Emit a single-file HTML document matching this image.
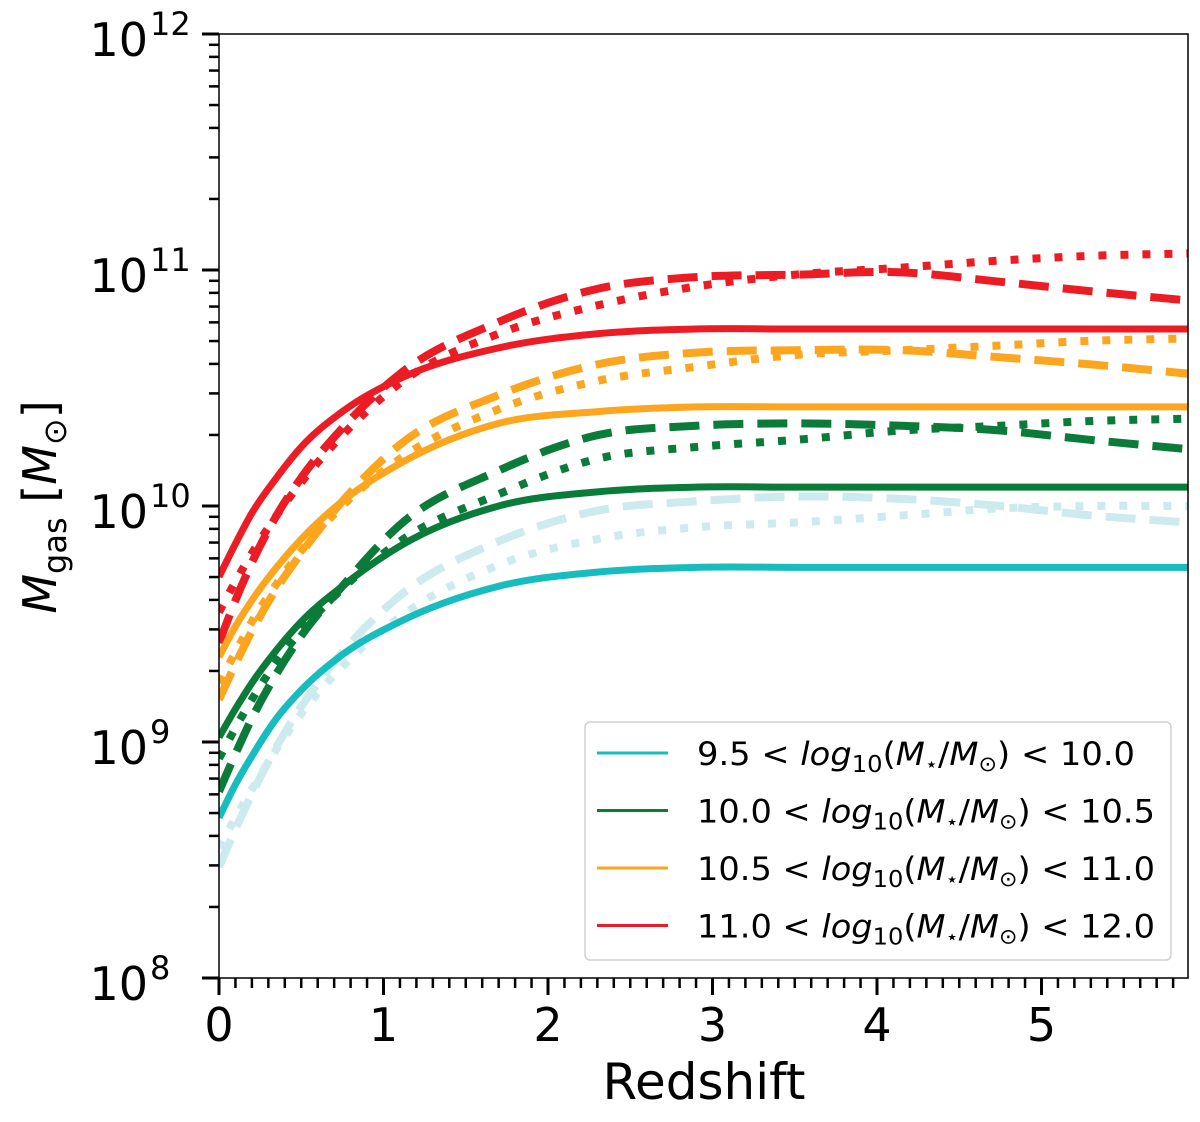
<!DOCTYPE html>
<html><head><meta charset="utf-8"><style>
html,body{margin:0;padding:0;background:#fff;}
svg{display:block;font-family:"DejaVu Sans","Liberation Sans",sans-serif;}
</style></head><body>
<svg id="chart" width="1200" height="1122" viewBox="0 0 1200 1122" xmlns="http://www.w3.org/2000/svg">
<defs><clipPath id="plotclip"><rect x="219" y="34" width="969" height="944"/></clipPath></defs>
<g id="plot" clip-path="url(#plotclip)"></g>
<g id="axes"></g>
<g id="legend"></g>
</svg>
<script>
const redshifts = [0,0.1,0.2,0.35,0.5,0.75,1.1,1.7,2.3,2.9,3.5,4.15,4.75,5.3,5.9];
const xTicks = [0,1,2,3,4,5];
const yTickExps = [8,9,10,11,12];
const binNames = ['9.5 < ','10.0 < ','10.5 < ','11.0 < '];
const binUppers = [' < 10.0',' < 10.5',' < 11.0',' < 12.0'];
// log10 gas mass values
const cyanSolid   = [8.68,8.82,8.94,9.10,9.22,9.37,9.51,9.66,9.72,9.74,9.74,9.74,9.74,9.74,9.74];
const cyanDashed  = [8.47,8.63,8.78,8.98,9.15,9.38,9.62,9.85,9.98,10.02,10.04,10.03,10.00,9.96,9.93];
const cyanDotted  = [8.55,8.68,8.80,8.97,9.12,9.32,9.53,9.75,9.86,9.91,9.93,9.96,9.99,10.0,10.0];
const greenSolid  = [9.02,9.14,9.25,9.39,9.51,9.66,9.83,10.00,10.06,10.08,10.08,10.08,10.08,10.08,10.08];
const greenDashed = [8.79,8.95,9.10,9.29,9.45,9.66,9.92,10.15,10.30,10.34,10.35,10.34,10.32,10.28,10.24];
const greenDotted = [8.93,9.06,9.18,9.34,9.47,9.65,9.85,10.05,10.20,10.25,10.28,10.32,10.34,10.36,10.37];
const orangeSolid = [9.36,9.49,9.60,9.74,9.86,10.02,10.18,10.35,10.40,10.42,10.42,10.42,10.42,10.42,10.42];
const orangeDashed= [9.18,9.33,9.47,9.65,9.80,10.02,10.26,10.47,10.60,10.65,10.66,10.66,10.63,10.60,10.56];
const orangeDotted= [9.25,9.38,9.51,9.67,9.81,10.00,10.20,10.41,10.53,10.59,10.64,10.66,10.68,10.70,10.71];
const redSolid    = [9.70,9.84,9.97,10.12,10.25,10.40,10.54,10.67,10.73,10.75,10.75,10.75,10.75,10.75,10.75];
const redDashed   = [9.42,9.60,9.76,9.96,10.12,10.33,10.56,10.78,10.92,10.97,10.98,10.99,10.95,10.91,10.87];
const redDotted   = [9.55,9.68,9.80,9.96,10.10,10.30,10.52,10.73,10.85,10.93,10.98,11.01,11.04,11.06,11.07];

const NS='http://www.w3.org/2000/svg';
const X0=219,X1=1188,Y0=978,Y1=34, PXU=164.5;
const xs=z=>X0+z*PXU;
const ys=l=>Y0-(l-8)*(Y0-Y1)/4;
function mk(tag,attrs,parent){const e=document.createElementNS(NS,tag);for(const k in attrs)e.setAttribute(k,attrs[k]);parent.appendChild(e);return e;}
const plot=document.getElementById('plot'),axes=document.getElementById('axes'),leg=document.getElementById('legend');

function smoothPath(vals){
  const p=redshifts.map((z,i)=>[xs(z),ys(vals[i])]);
  const n=p.length,m=[];
  for(let i=0;i<n;i++){
    if(i===0){m.push((p[1][1]-p[0][1])/(p[1][0]-p[0][0]));continue;}
    if(i===n-1){m.push((p[n-1][1]-p[n-2][1])/(p[n-1][0]-p[n-2][0]));continue;}
    const h0=p[i][0]-p[i-1][0],h1=p[i+1][0]-p[i][0];
    const d0=(p[i][1]-p[i-1][1])/h0,d1=(p[i+1][1]-p[i][1])/h1;
    m.push((d0*h1+d1*h0)/(h0+h1));
  }
  let d='M'+p[0][0]+','+p[0][1];
  for(let i=0;i<n-1;i++){
    const h=(p[i+1][0]-p[i][0])/3;
    d+=' C'+(p[i][0]+h)+','+(p[i][1]+m[i]*h)+' '+(p[i+1][0]-h)+','+(p[i+1][1]-m[i+1]*h)+' '+p[i+1][0]+','+p[i+1][1];
  }
  return d;
}
const series=[
 [cyanDashed,'#cdeaee','dashed','cyan-dashed-line'],[cyanDotted,'#cdeaee','dotted','cyan-dotted-line'],
 [greenDashed,'#0b7b3a','dashed','green-dashed-line'],[greenDotted,'#0b7b3a','dotted','green-dotted-line'],
 [orangeDashed,'#fca620','dashed','orange-dashed-line'],[orangeDotted,'#fca620','dotted','orange-dotted-line'],
 [redDashed,'#ec1c24','dashed','red-dashed-line'],[redDotted,'#ec1c24','dotted','red-dotted-line'],
 [cyanSolid,'#17bcbf','solid','cyan-solid-line'],[greenSolid,'#0b7b3a','solid','green-solid-line'],
 [orangeSolid,'#fca620','solid','orange-solid-line'],[redSolid,'#ec1c24','solid','red-solid-line']
];
series.forEach(s=>{
  const a={d:smoothPath(s[0]),fill:'none',stroke:s[1],'stroke-width':s[2]==='solid'?7:8};
  if(s[2]==='dashed')a['stroke-dasharray']='30 14';
  if(s[2]==='dotted')a['stroke-dasharray']='8 14';
  const e=mk('path',a,plot);
  
  
});
const fr=mk('rect',{x:X0,y:Y1,width:X1-X0,height:Y0-Y1,fill:'none',stroke:'#000','stroke-width':1.5},axes);


yTickExps.forEach(e=>{
  const y=ys(e);
  mk('line',{x1:X0-17,x2:X0,y1:y,y2:y,stroke:'#000','stroke-width':3},axes);
  const t=mk('text',{x:148,y:y+22,'font-size':46,'text-anchor':'end'},axes);
  t.textContent='10';
  
  
  const s=mk('text',{x:150,y:y+1,'font-size':32},axes);
  s.textContent=String(e);
  if(e<12){for(let m=2;m<=9;m++){const ym=ys(e+Math.log10(m));mk('line',{x1:X0-10,x2:X0,y1:ym,y2:ym,stroke:'#000','stroke-width':2.5},axes);}}
});
xTicks.forEach(v=>{
  const x=xs(v);
  mk('line',{x1:x,x2:x,y1:Y0,y2:Y0+17,stroke:'#000','stroke-width':3},axes);
  const t=mk('text',{x:x,y:Y0+63,'font-size':46,'text-anchor':'middle'},axes);
  t.textContent=String(v);
  
  
});
for(let i=1;i<59;i++){if(i%10===0)continue;const x=xs(i/10);if(x>X1)break;mk('line',{x1:x,x2:x,y1:Y0,y2:Y0+10,stroke:'#000','stroke-width':2.5},axes);}
const xl=mk('text',{x:704,y:1099,'font-size':50,'text-anchor':'middle'},axes);
xl.textContent='Redshift';


const yl=mk('text',{transform:'translate(56,507) rotate(-90)','font-size':46,'text-anchor':'middle'},axes);
yl.innerHTML='<tspan font-style="italic">M</tspan><tspan font-size="32" dy="10">gas</tspan><tspan dy="-10"> [</tspan><tspan font-style="italic">M</tspan><tspan font-size="32" dy="10">⊙</tspan><tspan dy="-10">]</tspan>';


const lb=mk('rect',{x:585,y:722,width:586,height:238,rx:5,fill:'#fff','fill-opacity':0.85,stroke:'#d0d0d0','stroke-width':1.5},leg);


const legColors=['#17bcbf','#0b7b3a','#fca620','#ec1c24'];
binNames.forEach((n,i)=>{
  const y=753+i*57.5;
  const g=mk('g',{},leg);
  
  
  mk('line',{x1:597,x2:668,y1:y,y2:y,stroke:legColors[i],'stroke-width':3},g);
  const t=mk('text',{x:697,y:y+12,'font-size':32,textLength:i===0?438:458,lengthAdjust:'spacingAndGlyphs'},g);
  t.innerHTML=n+'<tspan font-style="italic">log</tspan><tspan font-size="23" dy="7">10</tspan><tspan dy="-7">(</tspan><tspan font-style="italic">M</tspan><tspan font-size="20" dy="6">⋆</tspan><tspan dy="-6">/</tspan><tspan font-style="italic">M</tspan><tspan font-size="21" dy="6">⊙</tspan><tspan dy="-6">)</tspan>'+binUppers[i];
});
</script>
</body></html>
